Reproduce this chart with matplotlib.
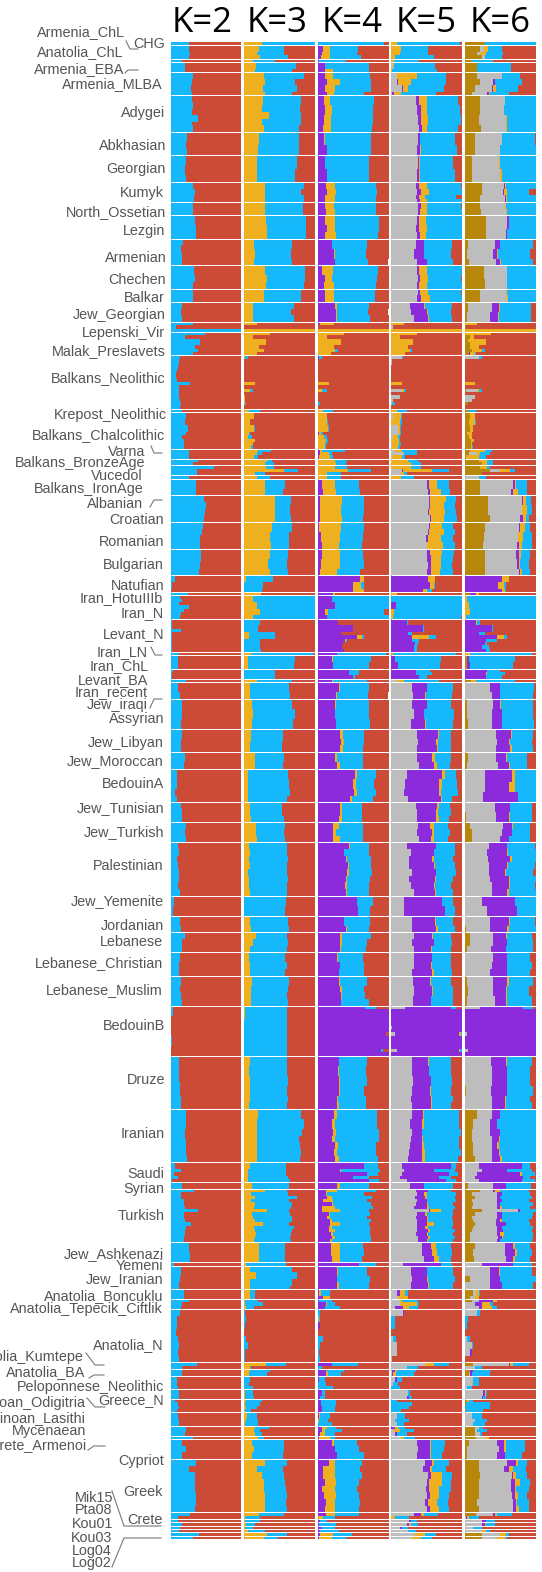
import matplotlib
matplotlib.use('Agg')
import matplotlib.pyplot as plt
import numpy as np

plt.rcParams['font.family'] = ['Liberation Sans', 'DejaVu Sans']

# Colours
RED = '#CB4B37'
BLUE = '#14B8FB'
GOLD = '#EEB01F'
PURPLE = '#8B2BDC'
GRAY = '#BDBDBD'
DARK = '#B8860B'

# Samples per population, top to bottom
group_sizes = [1, 4, 1, 3, 7, 11, 7, 8, 6, 4, 7, 8, 7, 4, 6, 3, 7, 16, 1, 11, 3, 2, 3, 1, 5, 8, 8, 8,
               5, 1, 7, 10, 1, 4, 3, 1, 5, 9, 7, 5, 10, 6, 6, 16, 6, 5, 6, 7, 9, 15, 16, 16, 6, 2, 16,
               6, 1, 7, 3, 3, 16, 2, 2, 4, 3, 4, 4, 3, 1, 6, 16, 2, 1, 1, 1, 1, 1, 1]

# Cumulative ancestry in percent, left to right. One list per population,
# red takes what is left of each row.
k2_rows = [
    [26], [25, 26, 27, 25], [16], [20], [31, 30, 29, 30], [30, 31, 30, 38, 30, 31, 31], [23, 22, 23], [21, 20, 21],
    [32, 34, 33], [32, 31], [34, 35, 36], [17, 14, 15, 16], [33, 34, 32], [31], [16, 14, 16], [31, 7, 100],
    [49, 20, 41, 41, 34, 38, 32], [13, 11, 11, 10, 8, 7, 7, 9, 27, 11, 11, 12, 12, 13, 14, 13], [15], [22, 20, 24, 21, 16, 18, 19, 18],
    [26, 25, 25], [39, 32], [61, 37, 37], [26], [35, 35], [47, 50, 49, 47], [46, 44, 42, 41], [43, 43, 41, 40],
    [6, 1, 0], [24], [13, 16, 12, 25, 18, 14, 13], [1, 1, 1, 14, 1, 1, 1, 1, 1, 1], [12], [10], [3, 2, 1], [21],
    [10, 13], [16, 15, 14], [15, 14, 14], [20, 18], [9, 8, 5, 9], [14, 16, 15], [21, 20, 22],
    [10, 12, 9, 10, 11, 12, 10, 13], [4, 3], [13, 14], [20, 16, 15], [13, 12, 12], [14, 13, 14, 15],
    [3, 0, 0, 1, 0], [12, 11, 13, 14], [22, 21, 20, 21, 21, 23], [6, 14, 4, 10, 2], [16],
    [33, 14, 14, 19, 18, 20, 39, 19, 18, 20, 29, 21, 20, 20, 19, 18], [26, 27], [4], [14, 13, 12], [19], [25, 15, 14],
    [13, 8, 8, 7, 10, 11, 10, 11], [37, 15], [15], [9, 9, 10], [11], [5, 10, 11, 9], [10, 11, 12], [21, 20], [32],
    [16, 22, 16], [35, 26, 34, 34, 34, 35, 35, 34], [27, 10], [10], [16], [13], [12], [40], [32],
]

k3_rows = [
    [(25, 100)], [(21, 57), (18, 57), (22, 62)], [(12, 43)], [(17, 73), (16, 68)],
    [(28, 85), (30, 72), (27, 75), (29, 68)], [(27, 80), (26, 79), (35, 80), (26, 80), (28, 78)],
    [(21, 78), (20, 77)], [(18, 74), (18, 72)], [(29, 85), (30, 80), (29, 85)], [(29, 83)],
    [(31, 88), (32, 87), (33, 87)], [(14, 68), (15, 66), (14, 68)], [(30, 86), (32, 86), (31, 85)], [(28, 80)],
    [(13, 70), (12, 66), (13, 70)], [(18, 18), (0, 0), (100, 100)],
    [(36, 36), (13, 13), (31, 31), (31, 31), (21, 21), (28, 28), (19, 19)],
    [(2, 6)] + [(0, 0)] * 7 + [(16, 16), (0, 0), (8, 12), (0, 0), (1, 1), (2, 2), (2, 3), (0, 0)], [(7, 22)],
    [(14, 14), (8, 9), (14, 15), (7, 9), (6, 11), (15, 16), (12, 13), (10, 12)],
    [(20, 38), (19, 25), (14, 20)], [(32, 40), (30, 42)], [(31, 42), (56, 76), (16, 30)], [(18, 36)],
    [(30, 58), (29, 55)], [(43, 66), (44, 65), (43, 66)], [(39, 67), (37, 63), (38, 63)], [(36, 62), (34, 60), (36, 62)],
    [(3, 41), (0, 27), (0, 25)], [(24, 24)], [(12, 100), (19, 100), (22, 100), (13, 100)],
    [(0, 22), (0, 20), (7, 43), (0, 22), (0, 22), (0, 24)], [(10, 97)], [(6, 72), (5, 70)], [(0, 44), (0, 44)], [(18, 68)],
    [(8, 64), (8, 65)], [(11, 68), (13, 72), (11, 69)], [(10, 55), (9, 53)], [(15, 56), (15, 55)],
    [(5, 62), (6, 63), (5, 65), (6, 60)], [(9, 54), (8, 53), (10, 56)], [(17, 58), (17, 56), (18, 58)],
    [(7, 60), (8, 61), (7, 62), (8, 60), (6, 60), (7, 62), (7, 60), (8, 60)], [(0, 59), (0, 58)], [(8, 62), (10, 63)],
    [(17, 60), (12, 62), (9, 60)], [(7, 58), (8, 60), (8, 58)], [(11, 63), (10, 62), (10, 61), (10, 62)],
    [(1, 60), (0, 60), (0, 61), (0, 60)], [(8, 61), (7, 60), (9, 62), (8, 61), (9, 62), (7, 60)],
    [(20, 80), (19, 84), (18, 81), (19, 78), (19, 79), (18, 80), (19, 79)], [(9, 59), (6, 59), (6, 62), (6, 65)], [(11, 64)],
    [(30, 60), (10, 62), (15, 74), (10, 64), (16, 68), (14, 66), (33, 63), (11, 65), (12, 68), (15, 68), (27, 64), (14, 70),
     (15, 68), (17, 66), (15, 65), (14, 66)], [(21, 58)], [(3, 59)],
    [(8, 67), (17, 74), (8, 68), (8, 65)], [(8, 16)], [(1, 20), (2, 27), (3, 14)],
    [(0, 1), (0, 3), (0, 2), (0, 0), (0, 3), (0, 5), (0, 2), (0, 2)], [(31, 59), (8, 10)], [(8, 36), (7, 33)],
    [(0, 9), (0, 7), (0, 13)], [(2, 13), (1, 14)], [(3, 26), (2, 22), (3, 18), (1, 10)], [(4, 18), (3, 20), (2, 20)],
    [(15, 35), (14, 22), (15, 26)], [(20, 28)], [(11, 56), (14, 56), (11, 55)],
    [(30, 60), (19, 55), (26, 57), (28, 58), (28, 59), (30, 60), (30, 59), (30, 60)], [(21, 56), (2, 22)],
    [(2, 22)], [(3, 16)], [(1, 12)], [(5, 30)], [(33, 60)], [(28, 48)],
]

k4_rows = [
    [(1, 1, 93)], [(8, 17, 57), (6, 18, 56), (5, 17, 61)], [(2, 2, 40)], [(11, 11, 73), (10, 22, 72)],
    [(11, 22, 74), (13, 31, 76), (11, 25, 75), (14, 23, 66)], [(9, 18, 79), (10, 21, 78), (9, 19, 78), (8, 19, 77)],
    [(9, 10, 76), (13, 14, 75)], [(10, 11, 72), (13, 13, 72)], [(12, 24, 82), (13, 26, 84), (10, 24, 82)],
    [(10, 23, 82), (12, 24, 83)], [(11, 25, 86), (14, 25, 86), (11, 26, 85)], [(20, 21, 70), (23, 24, 69), (24, 25, 71)],
    [(7, 22, 85), (10, 21, 84), (9, 23, 83)], [(11, 23, 81), (10, 23, 81)], [(25, 28, 73), (26, 28, 71), (26, 27, 74)],
    [(3, 23, 23), (0, 0, 0), (0, 100, 100)],
    [(0, 38, 38), (0, 13, 13), (0, 33, 33), (0, 33, 33), (0, 23, 23), (0, 25, 29), (0, 19, 19)],
    [(2, 2, 6)] + [(0, 0, 0)] * 7 + [(0, 16, 16), (0, 0, 0), (0, 6, 13), (0, 0, 0), (1, 1, 1), (1, 1, 1), (0, 1, 4), (0, 0, 0)], [(1, 8, 22)],
    [(0, 13, 14), (0, 14, 15), (0, 15, 16), (2, 5, 8), (1, 9, 14), (0, 12, 15), (0, 10, 13), (0, 11, 12)],
    [(4, 6, 39), (3, 16, 20), (2, 18, 22)], [(0, 25, 41), (0, 26, 40)], [(0, 25, 42), (0, 43, 76), (0, 14, 33)], [(0, 14, 33)],
    [(6, 25, 58), (8, 26, 60)], [(4, 35, 66), (3, 33, 66), (4, 35, 64)], [(2, 33, 65), (5, 32, 64), (6, 30, 62)],
    [(6, 31, 64), (5, 31, 66), (4, 28, 60)], [(60, 66, 66), (50, 61, 66), (50, 65, 65)], [(22, 25, 25)],
    [(20, 21, 100), (24, 24, 100), (10, 15, 94), (13, 13, 100)],
    [(29, 29, 29), (50, 50, 50), (33, 33, 33), (55, 62, 65), (39, 40, 42), (36, 36, 36), (34, 34, 35), (38, 38, 38)],
    [(28, 28, 97)], [(20, 22, 75), (22, 22, 73)], [(44, 44, 59), (50, 50, 53)], [(20, 22, 70)],
    [(30, 31, 72), (26, 27, 71)], [(25, 26, 72), (24, 24, 73), (26, 26, 74)], [(31, 36, 65), (33, 37, 65), (32, 36, 64)],
    [(24, 28, 64), (27, 32, 64)], [(53, 56, 82), (50, 54, 80), (52, 56, 83), (46, 48, 78)],
    [(31, 34, 62), (32, 34, 63), (30, 34, 62)], [(22, 30, 64), (22, 26, 64), (22, 32, 64)],
    [(45, 46, 73), (37, 38, 72), (40, 41, 75), (43, 44, 76), (42, 44, 77), (40, 42, 74), (39, 41, 72), (40, 41, 72)],
    [(56, 56, 78), (57, 57, 74)], [(38, 38, 74), (40, 42, 72)], [(31, 34, 75), (32, 34, 70), (32, 33, 68)],
    [(28, 29, 64), (31, 31, 66), (30, 30, 66)], [(30, 32, 70), (32, 34, 65), (33, 35, 67), (33, 33, 72)],
    [(67, 67, 82)] + [(100, 100, 100)] * 7 + [(96, 96, 97)] + [(100, 100, 100)] * 4 + [(89, 89, 92), (100, 100, 100)],
    [(30, 30, 70), (29, 30, 69), (30, 31, 70), (30, 31, 66), (28, 29, 68), (27, 30, 69)],
    [(23, 28, 84), (20, 25, 84), (22, 26, 87), (20, 24, 86), (25, 29, 82), (23, 28, 82), (25, 30, 85)],
    [(65, 66, 85), (32, 33, 88), (70, 70, 85), (50, 50, 72), (72, 73, 87)], [(28, 32, 72)],
    [(12, 28, 82), (12, 14, 66), (14, 20, 77), (8, 22, 70), (20, 22, 76), (7, 24, 78), (7, 31, 72), (16, 18, 74), (14, 18, 70),
     (18, 21, 75), (18, 32, 72), (16, 20, 74), (16, 24, 74), (19, 22, 74), (20, 25, 76), (17, 20, 75)],
    [(19, 31, 64), (19, 32, 65), (20, 32, 62)], [(58, 58, 82)], [(28, 29, 70), (27, 28, 74), (28, 30, 73)],
    [(2, 5, 18), (8, 17, 18)], [(2, 2, 21), (12, 13, 24), (10, 11, 32)],
    [(1, 1, 3), (1, 2, 3), (3, 3, 4), (0, 0, 0), (0, 0, 8), (1, 1, 4), (0, 0, 2), (1, 1, 3)], [(20, 21, 57), (0, 0, 6)],
    [(12, 13, 37), (12, 15, 33)], [(2, 2, 10), (0, 0, 12), (0, 0, 22)], [(6, 6, 10), (3, 3, 11)], [(5, 5, 26), (6, 6, 25)],
    [(2, 3, 18), (1, 2, 15), (1, 1, 20)], [(6, 14, 26), (6, 10, 34), (4, 10, 24)], [(2, 18, 24)],
    [(21, 23, 56), (24, 25, 58), (28, 28, 66)],
    [(16, 24, 62), (8, 25, 60), (8, 25, 62), (10, 26, 58), (7, 25, 56), (9, 26, 58), (12, 24, 60), (11, 24, 58)],
    [(12, 24, 58), (0, 8, 24)], [(4, 4, 14)], [(2, 2, 26)], [(6, 6, 24)], [(4, 4, 30)], [(3, 22, 48)], [(2, 20, 40)],
]

k5_rows = [
    [(0, 0, 9, 97)], [(0, 0, 14, 52), (0, 0, 12, 52), (0, 0, 5, 60)], [(0, 0, 4, 40)], [(3, 3, 4, 62), (0, 0, 2, 65)],
    [(8, 8, 36, 77), (8, 10, 28, 78), (15, 17, 24, 74), (1, 4, 14, 63)],
    [(35, 40, 50, 94), (37, 42, 50, 97), (38, 42, 52, 98), (39, 43, 50, 95)], [(38, 41, 41, 90), (36, 41, 42, 93)],
    [(38, 40, 41, 88), (37, 40, 41, 90)], [(35, 40, 50, 98), (37, 42, 53, 100), (35, 40, 48, 92), (36, 41, 50, 100)],
    [(38, 42, 50, 99), (38, 41, 50, 100)], [(36, 40, 49, 100), (35, 39, 50, 100), (36, 41, 49, 100)],
    [(35, 47, 47, 86), (33, 46, 47, 85), (36, 50, 51, 88)], [(37, 40, 50, 100), (38, 41, 52, 99), (36, 39, 50, 100)],
    [(38, 41, 52, 99), (36, 42, 55, 100)], [(27, 46, 48, 86), (28, 50, 52, 84), (32, 52, 54, 86)],
    [(0, 0, 18, 18), (3, 3, 3, 3), (0, 0, 100, 100)],
    [(0, 0, 36, 36), (0, 0, 13, 13), (0, 0, 31, 31), (0, 0, 31, 31), (0, 0, 24, 24), (0, 0, 27, 29), (0, 0, 20, 20)],
    [(15, 15, 15, 17)] + [(1, 1, 1, 1)] * 2 + [(0, 0, 0, 0)] * 5 + [(0, 0, 16, 16), (0, 0, 0, 0), (15, 15, 18, 21), (0, 0, 0, 0),
                                                                    (13, 13, 13, 13), (3, 3, 3, 3), (2, 2, 2, 6), (0, 0, 0, 0)],
    [(0, 0, 8, 23)],
    [(3, 3, 14, 15), (0, 0, 13, 15), (10, 10, 12, 14), (11, 11, 12, 14), (3, 3, 10, 12), (0, 0, 11, 13), (2, 2, 11, 14), (1, 1, 10, 12)],
    [(5, 5, 15, 36), (18, 18, 18, 36), (2, 2, 16, 20)], [(0, 0, 24, 38), (0, 0, 28, 42)],
    [(0, 0, 28, 42), (15, 17, 58, 82), (14, 14, 18, 22)], [(0, 0, 14, 33)], [(50, 54, 65, 82), (52, 55, 70, 83)],
    [(53, 55, 77, 92), (54, 55, 75, 90), (52, 54, 76, 92), (55, 57, 75, 93)],
    [(53, 55, 72, 87), (52, 54, 74, 90), (49, 52, 70, 88), (50, 51, 73, 90)],
    [(51, 55, 72, 89), (51, 57, 70, 88), (52, 57, 70, 86), (51, 56, 69, 88)],
    [(0, 52, 62, 62), (0, 55, 60, 62), (0, 45, 50, 58)], [(0, 0, 8, 8)],
    [(0, 0, 0, 100), (0, 7, 7, 100), (0, 0, 4, 100), (0, 0, 3, 98)],
    [(0, 22, 22, 24), (0, 45, 45, 47), (0, 24, 24, 30), (0, 30, 53, 63), (0, 30, 30, 39), (0, 34, 34, 38), (0, 33, 33, 36), (0, 32, 32, 36)],
    [(0, 0, 3, 92)], [(0, 6, 6, 70), (0, 10, 10, 69)], [(0, 35, 35, 55), (0, 35, 35, 58), (0, 40, 40, 50)], [(9, 9, 18, 68)],
    [(29, 50, 50, 88), (31, 48, 49, 86)], [(30, 50, 50, 85), (32, 46, 47, 89), (28, 48, 49, 88)],
    [(36, 66, 68, 85), (38, 64, 66, 85), (37, 65, 66, 84)], [(37, 58, 62, 84), (39, 61, 65, 83)],
    [(22, 72, 76, 92), (20, 68, 72, 93), (19, 68, 70, 94), (24, 70, 72, 86)],
    [(35, 65, 67, 83), (37, 64, 66, 84), (36, 64, 67, 82)], [(38, 55, 60, 80), (36, 58, 60, 83), (40, 57, 60, 80)],
    [(22, 63, 64, 90), (28, 60, 61, 90), (25, 58, 60, 88), (25, 60, 62, 90), (30, 63, 64, 92), (26, 62, 63, 88), (28, 60, 62, 85), (32, 62, 64, 88)],
    [(18, 72, 72, 88), (18, 76, 76, 90)], [(30, 62, 63, 88), (30, 64, 66, 90)],
    [(33, 58, 59, 85), (30, 60, 61, 86), (32, 56, 58, 84)], [(32, 58, 58, 85), (32, 57, 58, 84), (30, 58, 60, 86)],
    [(31, 55, 57, 84), (32, 58, 59, 88), (31, 56, 57, 87)],
    [(20, 84, 84, 92)] + [(0, 100, 100, 100)] * 5 + [(2, 100, 100, 100), (0, 100, 100, 100), (6, 96, 98, 100)]
    + [(0, 100, 100, 100)] * 4 + [(9, 96, 97, 100), (0, 100, 100, 100)],
    [(30, 52, 53, 84), (30, 53, 54, 85), (31, 56, 57, 86), (29, 55, 56, 85), (28, 57, 58, 88), (30, 57, 58, 85)],
    [(29, 45, 47, 96), (27, 44, 46, 96), (30, 43, 44, 98), (28, 44, 45, 96), (27, 43, 46, 96), (25, 44, 48, 98), (24, 43, 48, 95)],
    [(16, 85, 85, 92), (19, 60, 60, 90), (16, 82, 82, 94), (13, 68, 68, 85), (22, 78, 78, 92)], [(27, 46, 47, 88)],
    [(35, 52, 52, 85), (36, 47, 50, 92), (34, 48, 50, 90), (36, 50, 50, 92), (35, 50, 52, 88), (33, 50, 54, 90), (53, 55, 70, 88),
     (36, 48, 50, 88), (35, 50, 52, 86), (36, 50, 52, 88), (36, 50, 60, 88), (36, 48, 52, 86), (37, 52, 55, 90), (35, 50, 52, 88),
     (38, 52, 55, 90), (38, 50, 52, 88)],
    [(44, 56, 64, 85), (43, 58, 65, 86), (46, 60, 67, 85)], [(17, 70, 70, 86)],
    [(28, 50, 50, 88), (29, 51, 52, 90), (28, 52, 53, 88)], [(8, 12, 20, 24), (10, 10, 24, 24)],
    [(12, 12, 16, 38), (12, 12, 36, 40), (6, 17, 25, 38)],
    [(17, 19, 19, 19), (0, 0, 0, 6), (0, 0, 0, 5), (0, 0, 0, 0), (3, 3, 3, 7), (8, 8, 8, 8), (8, 8, 8, 8), (1, 1, 1, 1)],
    [(48, 48, 60, 82), (22, 22, 22, 38)], [(2, 5, 8, 35), (1, 3, 7, 33)], [(5, 8, 8, 16), (3, 3, 3, 10), (0, 0, 0, 12)],
    [(24, 24, 24, 27), (22, 26, 26, 29)], [(0, 0, 0, 8), (0, 0, 0, 30), (0, 0, 0, 25), (0, 0, 0, 14)],
    [(8, 8, 8, 20), (6, 6, 6, 25), (8, 8, 8, 18)], [(0, 5, 10, 20), (4, 4, 12, 32), (5, 8, 8, 22)], [(14, 14, 18, 34)],
    [(37, 55, 56, 76), (38, 55, 57, 74), (36, 55, 56, 72)],
    [(48, 58, 60, 82), (45, 55, 58, 78), (52, 56, 72, 86), (50, 54, 72, 84), (49, 53, 68, 84), (50, 55, 68, 82), (48, 52, 65, 80), (50, 55, 68, 82)],
    [(32, 42, 46, 66), (0, 0, 5, 25)], [(26, 28, 28, 36)], [(22, 26, 28, 38)], [(12, 15, 15, 24)], [(24, 24, 24, 35)],
    [(34, 34, 48, 64)], [(30, 30, 42, 58)],
]

k6_rows = [
    [(28, 28, 28, 28, 100)], [(22, 27, 27, 33, 53), (18, 22, 22, 30, 54), (25, 28, 28, 28, 52)], [(10, 10, 10, 10, 40)],
    [(18, 18, 18, 18, 65)], [(18, 52, 52, 52, 78), (22, 40, 42, 42, 80), (14, 38, 40, 44, 75), (10, 32, 34, 36, 62)],
    [(21, 56, 56, 57, 100), (22, 55, 55, 55, 100), (20, 58, 58, 60, 100), (23, 58, 58, 60, 100)],
    [(14, 52, 52, 53, 98), (14, 50, 50, 50, 100)], [(11, 48, 48, 50, 100), (10, 50, 50, 52, 100)],
    [(25, 55, 56, 58, 100), (24, 54, 55, 59, 90), (21, 57, 58, 60, 100)], [(22, 57, 57, 58, 100), (23, 58, 58, 59, 100)],
    [(30, 60, 62, 62, 100), (30, 58, 60, 60, 100)], [(5, 43, 50, 50, 96), (3, 40, 46, 47, 92), (6, 44, 50, 51, 96)],
    [(27, 60, 60, 60, 100), (28, 60, 60, 60, 100)], [(22, 58, 58, 60, 100), (22, 60, 60, 61, 100)],
    [(5, 38, 48, 50, 93), (4, 36, 47, 48, 93)], [(0, 0, 0, 18, 18), (2, 2, 2, 2, 2), (0, 0, 0, 100, 100)],
    [(0, 0, 0, 37, 37), (8, 8, 8, 13, 13), (5, 5, 5, 30, 30), (8, 8, 8, 30, 30), (8, 8, 8, 20, 20), (10, 10, 10, 24, 28), (6, 6, 8, 15, 16)],
    [(0, 20, 20, 20, 24)] + [(0, 0, 0, 0, 0)] * 4 + [(1, 1, 1, 1, 1)] + [(0, 0, 0, 0, 0)] * 2
    + [(0, 0, 0, 15, 15), (0, 0, 0, 0, 0), (2, 17, 17, 20, 24), (0, 1, 1, 1, 1), (0, 15, 15, 15, 15), (0, 10, 10, 10, 10), (5, 5, 5, 5, 5), (0, 0, 0, 0, 0)],
    [(6, 6, 6, 6, 16)],
    [(8, 8, 8, 14, 15), (6, 6, 6, 15, 16), (7, 7, 7, 12, 12), (4, 4, 4, 10, 10), (6, 6, 6, 10, 10), (9, 9, 9, 13, 13), (9, 9, 9, 11, 11), (9, 9, 9, 11, 12)],
    [(8, 8, 8, 28, 38), (6, 18, 18, 22, 36), (2, 2, 2, 20, 30)], [(20, 20, 20, 32, 40), (24, 24, 24, 32, 40)],
    [(22, 22, 22, 32, 36), (36, 50, 50, 64, 70), (24, 24, 24, 24, 24)], [(0, 20, 20, 20, 30)],
    [(22, 68, 70, 72, 88), (21, 65, 68, 75, 88)], [(33, 80, 82, 86, 93), (33, 80, 80, 88, 95), (35, 78, 82, 86, 90)],
    [(28, 76, 78, 84, 92), (27, 75, 75, 82, 94), (26, 74, 76, 80, 95)], [(28, 72, 76, 79, 92), (28, 74, 76, 78, 90), (28, 76, 78, 80, 92)],
    [(0, 0, 52, 62, 62), (0, 0, 47, 55, 58), (0, 0, 52, 56, 58)], [(8, 8, 16, 20, 20)],
    [(0, 0, 0, 4, 100), (0, 0, 0, 6, 100), (0, 0, 0, 8, 100), (0, 0, 0, 2, 100)],
    [(0, 0, 16, 18, 22), (0, 0, 38, 38, 40), (0, 0, 20, 20, 28), (0, 0, 45, 55, 60), (0, 0, 30, 30, 45), (0, 0, 28, 28, 32), (0, 0, 24, 24, 34), (0, 0, 30, 30, 35)],
    [(0, 0, 0, 7, 95)], [(3, 3, 6, 6, 70), (3, 3, 8, 8, 68)], [(0, 0, 32, 32, 50), (0, 0, 30, 32, 56), (0, 0, 30, 30, 52)],
    [(9, 9, 9, 16, 70)], [(0, 36, 50, 50, 97), (0, 38, 50, 50, 96)], [(3, 40, 50, 51, 96), (4, 38, 52, 52, 96), (5, 38, 52, 53, 97)],
    [(0, 44, 65, 66, 96), (0, 46, 62, 64, 94), (0, 44, 64, 66, 96)], [(5, 44, 58, 60, 88), (3, 47, 62, 64, 88)],
    [(0, 28, 66, 70, 100), (0, 28, 62, 70, 100), (0, 26, 75, 75, 100)], [(0, 42, 63, 64, 95), (2, 44, 62, 64, 95)],
    [(8, 54, 66, 68, 92), (10, 52, 66, 66, 92), (11, 50, 62, 62, 92)],
    [(0, 34, 60, 60, 98), (0, 32, 60, 61, 100), (0, 33, 64, 66, 100), (0, 34, 60, 61, 98), (0, 34, 56, 58, 96), (0, 35, 62, 64, 100), (0, 38, 62, 64, 98), (0, 38, 60, 62, 100)],
    [(0, 25, 70, 70, 100), (0, 31, 74, 74, 100)], [(1, 36, 62, 63, 98), (2, 36, 60, 62, 100)],
    [(8, 40, 58, 60, 94), (8, 40, 60, 60, 96), (4, 37, 58, 58, 96)], [(0, 40, 60, 60, 92), (0, 38, 60, 60, 95), (0, 36, 60, 60, 92)],
    [(4, 40, 60, 62, 96), (5, 40, 58, 60, 90), (4, 42, 58, 60, 94)],
    [(0, 22, 82, 82, 96)] + [(0, 0, 100, 100, 100)] * 7 + [(0, 4, 100, 100, 100)] + [(0, 0, 100, 100, 100)] * 4
    + [(0, 5, 100, 100, 100), (0, 0, 100, 100, 100)],
    [(0, 37, 58, 59, 95), (1, 38, 60, 60, 92), (0, 38, 60, 60, 92), (2, 37, 60, 60, 96), (0, 38, 56, 58, 92), (0, 38, 56, 58, 94)],
    [(17, 38, 50, 50, 100), (12, 36, 46, 46, 100), (10, 36, 50, 50, 100), (10, 38, 48, 50, 100), (12, 38, 46, 48, 100), (12, 38, 48, 50, 100), (14, 38, 50, 52, 100)],
    [(0, 20, 80, 80, 92), (0, 25, 60, 60, 95), (0, 18, 78, 80, 98), (0, 15, 82, 82, 92), (0, 20, 80, 80, 98)], [(5, 40, 58, 58, 93)],
    [(22, 40, 42, 50, 90), (10, 45, 52, 52, 92), (14, 45, 50, 50, 94), (10, 45, 52, 52, 90), (12, 45, 50, 50, 96), (10, 46, 50, 52, 92),
     (24, 75, 77, 77, 100), (14, 46, 52, 52, 96), (10, 45, 52, 52, 94), (12, 44, 50, 52, 90), (14, 44, 58, 58, 92), (12, 46, 52, 52, 96),
     (10, 46, 54, 54, 94), (8, 46, 50, 55, 96), (8, 47, 52, 54, 96), (8, 46, 50, 50, 94)],
    [(14, 56, 68, 70, 92), (12, 56, 70, 74, 94), (13, 58, 68, 70, 92)], [(0, 25, 68, 68, 95)],
    [(0, 36, 48, 50, 95), (8, 36, 50, 50, 100), (0, 36, 52, 52, 96)], [(12, 16, 16, 20, 22), (8, 14, 14, 20, 20)],
    [(10, 20, 40, 46, 46), (0, 15, 25, 35, 40), (0, 20, 25, 38, 46)],
    [(0, 18, 18, 18, 22), (0, 0, 0, 1, 5), (0, 0, 0, 0, 4), (0, 0, 0, 0, 0), (0, 3, 3, 3, 8), (0, 10, 10, 10, 12), (0, 8, 10, 10, 10), (0, 1, 1, 1, 1)],
    [(12, 62, 64, 68, 90), (0, 15, 15, 15, 25)], [(8, 8, 12, 12, 36), (6, 8, 10, 10, 36)],
    [(0, 12, 12, 12, 20), (0, 10, 10, 12, 20), (0, 3, 3, 3, 10)], [(0, 26, 28, 30, 32), (0, 24, 26, 26, 30)],
    [(4, 4, 4, 6, 12), (2, 2, 2, 2, 35), (0, 0, 0, 0, 36), (2, 2, 2, 2, 26)],
    [(0, 10, 10, 10, 25), (0, 15, 15, 15, 32), (0, 12, 12, 12, 28)], [(15, 20, 20, 20, 26), (14, 18, 18, 18, 32), (15, 22, 22, 22, 24)],
    [(16, 28, 28, 34, 34)], [(6, 45, 55, 58, 84), (4, 48, 55, 58, 84), (4, 46, 56, 56, 80)],
    [(20, 60, 72, 75, 88), (20, 55, 62, 68, 86), (22, 66, 68, 72, 88), (20, 65, 70, 78, 92), (20, 65, 70, 72, 90), (20, 66, 70, 75, 88), (18, 68, 72, 74, 90), (20, 68, 72, 76, 90)],
    [(16, 40, 42, 46, 66), (0, 2, 4, 6, 20)], [(0, 25, 30, 30, 42)], [(0, 25, 28, 30, 42)], [(0, 12, 12, 12, 24)],
    [(0, 25, 25, 30, 36)], [(25, 50, 50, 58, 62)], [(25, 45, 45, 56, 60)],
]

# Labels: text, right edge and centre height in pixels
labels = [
    ('Armenia_ChL', 124, 31), ('CHG', 164, 42), ('Anatolia_ChL', 122, 51), ('Armenia_EBA', 123, 68),
    ('Armenia_MLBA', 162, 83), ('Adygei', 164, 112), ('Abkhasian', 165, 144), ('Georgian', 165, 168),
    ('Kumyk', 163, 192), ('North_Ossetian', 165, 211), ('Lezgin', 164, 230), ('Armenian', 166, 257),
    ('Chechen', 165, 279), ('Balkar', 164, 297), ('Jew_Georgian', 165, 314), ('Lepenski_Vir', 164, 331),
    ('Malak_Preslavets', 165, 350), ('Balkans_Neolithic', 165, 377), ('Krepost_Neolithic', 166, 413),
    ('Balkans_Chalcolithic', 164, 434), ('Varna', 144, 450), ('Balkans_BronzeAge', 144, 461), ('Vucedol', 142, 474),
    ('Balkans_IronAge', 143, 487), ('Albanian', 142, 502), ('Croatian', 163, 519), ('Romanian', 163, 540),
    ('Bulgarian', 163, 564), ('Natufian', 163, 584), ('Iran_HotuIIIb', 162, 597), ('Iran_N', 163, 612),
    ('Levant_N', 163, 633), ('Iran_LN', 147, 651), ('Iran_ChL', 148, 665), ('Levant_BA', 147, 679),
    ('Iran_recent', 147, 691), ('Jew_iraqi', 147, 704), ('Assyrian', 163, 718), ('Jew_Libyan', 163, 741),
    ('Jew_Moroccan', 163, 760), ('BedouinA', 163, 783), ('Jew_Tunisian', 163, 807), ('Jew_Turkish', 163, 831),
    ('Palestinian', 163, 864), ('Jew_Yemenite', 163, 900), ('Jordanian', 163, 924), ('Lebanese', 162, 941),
    ('Lebanese_Christian', 162, 962), ('Lebanese_Muslim', 162, 989), ('BedouinB', 164, 1025), ('Druze', 164, 1078),
    ('Iranian', 164, 1132), ('Saudi', 163, 1173), ('Syrian', 163, 1188), ('Turkish', 164, 1214),
    ('Jew_Ashkenazi', 163, 1253), ('Yemeni', 162, 1264), ('Jew_Iranian', 162, 1278), ('Anatolia_Boncuklu', 162, 1295),
    ('Anatolia_Tepecik_Ciftlik', 162, 1308), ('Anatolia_N', 162, 1344), ('Anatolia_Kumtepe', 83, 1355),
    ('Anatolia_BA', 84, 1371), ('Peloponnese_Neolithic', 163, 1385), ('Minoan_Odigitria', 85, 1402), ('Greece_N', 163, 1399),
    ('Minoan_Lasithi', 85, 1417), ('Mycenaean', 85, 1430), ('Crete_Armenoi', 85, 1444), ('Cypriot', 163, 1459),
    ('Greek', 162, 1490), ('Crete', 162, 1518), ('Mik15', 112, 1496), ('Pta08', 111, 1509), ('Kou01', 112, 1522),
    ('Kou03', 111, 1536), ('Log04', 111, 1549), ('Log02', 111, 1562),
]

# Grey leader lines from labels to their rows, in pixels
leaders = [
    [(126, 41), (130, 49), (138, 49)], [(125, 73), (128, 70), (138, 70)],
    [(151, 446), (154, 453), (162, 453)], [(150, 507), (154, 500), (162, 500)],
    [(151, 647), (155, 655), (162, 655)], [(150, 708), (154, 699), (162, 699)],
    [(86, 1353), (95, 1365), (104, 1365)], [(89, 1378), (94, 1375), (104, 1375)],
    [(87, 1398), (95, 1407), (105, 1407)], [(88, 1450), (94, 1446), (105, 1446)],
    [(112, 1491), (124, 1526), (161, 1526)], [(112, 1567), (124, 1538), (161, 1538)],
]

panels = [
    ('K=2', k2_rows, [BLUE, RED], 171, 241, 202),
    ('K=3', k3_rows, [GOLD, BLUE, RED], 244, 315, 277),
    ('K=4', k4_rows, [PURPLE, GOLD, BLUE, RED], 317.5, 388.5, 352),
    ('K=5', k5_rows, [GRAY, PURPLE, GOLD, BLUE, RED], 391, 462, 426),
    ('K=6', k6_rows, [DARK, GRAY, PURPLE, GOLD, BLUE, RED], 464.5, 536, 500.5),
]

W, H = 542, 1572
TOP, BOTTOM = 42, 1539

fig = plt.figure(figsize=(W / 100, H / 100), dpi=100)
starts = np.concatenate([[0], np.cumsum(group_sizes)])

for title, rows, colors, x0, x1, title_x in panels:
    assert len(rows) == len(group_sizes), title
    ax = fig.add_axes([x0 / W, 1 - BOTTOM / H, (x1 - x0) / W, (BOTTOM - TOP) / H])
    ys, hs, bounds = [], [], []
    for start, n, group in zip(starts, group_sizes, rows):
        # each read row covers an equal share of the population's samples
        for chunk, row in zip(np.array_split(np.arange(n), len(group)), group):
            if len(chunk) == 0:
                continue
            row = np.atleast_1d(row)
            ys.append(start + chunk[0])
            hs.append(len(chunk))
            bounds.append(np.concatenate([[0], row, [100]]))
    bounds = np.array(bounds)
    for j, color in enumerate(colors):
        ax.barh(ys, bounds[:, j + 1] - bounds[:, j], left=bounds[:, j], height=hs, align='edge',
                color=color, linewidth=0, antialiased=False)
    ax.hlines(starts[1:-1], 0, 100, color='white', linewidth=0.75)
    ax.set_xlim(0, 100)
    ax.set_ylim(starts[-1], 0)
    ax.axis('off')
    fig.text(title_x / W, 1 - 23 / H, title, ha='center', va='center', fontsize=25,
             family=['Open Sans', 'DejaVu Sans'], color='black')

# Overlay in pixel coordinates for labels and leaders
over = fig.add_axes([0, 0, 1, 1])
over.set_xlim(0, W)
over.set_ylim(H, 0)
over.axis('off')
over.patch.set_alpha(0)
for points in leaders:
    xs, yv = zip(*points)
    over.plot(xs, yv, color='#777777', linewidth=0.8)
for text, right, y in labels:
    over.text(right + 1, y + 1.5, text, ha='right', va='center', fontsize=10.4, color='#555555')

fig.savefig('out.png', dpi=100)
